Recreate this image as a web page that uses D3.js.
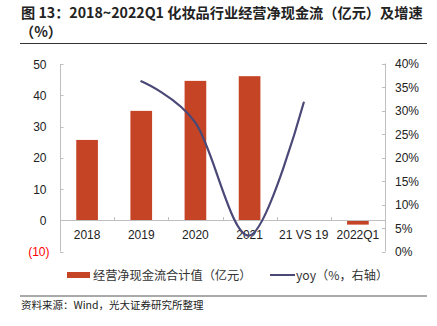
<!DOCTYPE html>
<html>
<head>
<meta charset="utf-8">
<script src="https://cdn.jsdelivr.net/npm/d3@7"></script>
<style>
  html, body { margin: 0; padding: 0; background: #fff; }
  svg { display: block; }
</style>
</head>
<body>
<svg id="chart" width="437" height="326"></svg>
<script>
// Categories and series
const categories = ["2018", "2019", "2020", "2021", "21 VS 19", "2022Q1"];
const cashFlow = [25.7, 35.0, 44.6, 46.1, null, -1.4];      // 亿元
const yoy = [null, 36.2, 27.4, 3.4, 31.7, null];              // %
const leftTicks = [-10, 0, 10, 20, 30, 40, 50];
const rightTicks = [0, 5, 10, 15, 20, 25, 30, 35, 40];

const titleLines = ["图 13：2018~2022Q1 化妆品行业经营净现金流（亿元）及增速", "（%）"];
const legendBar = "经营净现金流合计值（亿元）";
const legendLine = "yoy（%，右轴）";
const sourceText = "资料来源：Wind，光大证券研究所整理";

const svg = d3.select("#chart");
const cjk = "'Noto Sans CJK SC', 'Noto Sans', sans-serif";
const latin = "'Liberation Sans', Arial, sans-serif";
const barColor = "#C64426";
const lineColor = "#4A4877";
const axisColor = "#BFBFBF";

const plot = { left: 60, right: 385, top: 64, bottom: 251.5 };

const x = d3.scaleBand().domain(categories).range([plot.left, plot.right]).paddingInner(0).paddingOuter(0);
const yL = d3.scaleLinear().domain([-10, 50]).range([plot.bottom, plot.top]);
const yR = d3.scaleLinear().domain([0, 40]).range([plot.bottom, plot.top - 0.5]);

// Title
svg.append("text")
  .attr("x", 21).attr("y", 18)
  .attr("font-family", cjk).attr("font-size", 14.2).attr("font-weight", "bold").attr("fill", "#222")
  .selectAll("tspan").data(titleLines).join("tspan")
  .attr("x", (d, i) => i === 0 ? 21 : 20)
  .attr("dy", (d, i) => i === 0 ? 0 : 19)
  .text(d => d);

svg.append("line").attr("x1", 20).attr("x2", 427).attr("y1", 43.5).attr("y2", 43.5)
  .attr("stroke", "#333").attr("stroke-width", 1);

// Left axis
svg.append("line").attr("x1", plot.left + 0.5).attr("x2", plot.left + 0.5)
  .attr("y1", yL(50)).attr("y2", yL(-10)).attr("stroke", axisColor);
svg.selectAll(".ltick").data(leftTicks).join("line")
  .attr("x1", plot.left).attr("x2", plot.left + 3.5)
  .attr("y1", d => Math.round(yL(d)) + 0.5).attr("y2", d => Math.round(yL(d)) + 0.5)
  .attr("stroke", axisColor);
svg.selectAll(".llab").data(leftTicks).join("text")
  .attr("x", d => d < 0 ? 49.5 : 46.5)
  .attr("y", d => yL(d) + 4.5)
  .attr("text-anchor", "end")
  .attr("font-family", latin).attr("font-size", 12)
  .attr("fill", d => d < 0 ? "#FF0000" : "#222")
  .text(d => d < 0 ? `(${Math.abs(d)})` : d);

// Right axis
svg.append("line").attr("x1", plot.right + 0.5).attr("x2", plot.right + 0.5)
  .attr("y1", yR(40)).attr("y2", yR(0)).attr("stroke", axisColor);
svg.selectAll(".rtick").data(rightTicks).join("line")
  .attr("x1", plot.right - 3).attr("x2", plot.right + 0.5)
  .attr("y1", d => Math.round(yR(d)) + 0.5).attr("y2", d => Math.round(yR(d)) + 0.5)
  .attr("stroke", axisColor);
svg.selectAll(".rlab").data(rightTicks).join("text")
  .attr("x", 395)
  .attr("y", d => yR(d) + 4.5)
  .attr("font-family", latin).attr("font-size", 12).attr("fill", "#222")
  .text(d => d + "%");

// Bars
const barW = x.bandwidth() * 0.4;
svg.selectAll(".bar").data(categories.map((c, i) => ({ c, v: cashFlow[i] })).filter(d => d.v !== null))
  .join("rect")
  .attr("x", d => x(d.c) + (x.bandwidth() - barW) / 2)
  .attr("width", barW)
  .attr("y", d => yL(Math.max(0, d.v)))
  .attr("height", d => Math.abs(yL(d.v) - yL(0)))
  .attr("fill", barColor);

// Category axis along zero
const y0 = Math.round(yL(0)) + 0.5;
svg.append("line").attr("x1", plot.left).attr("x2", plot.right).attr("y1", y0).attr("y2", y0)
  .attr("stroke", axisColor);
svg.selectAll(".ctick").data(categories.slice(1)).join("line")
  .attr("x1", d => Math.round(x(d)) + 0.5).attr("x2", d => Math.round(x(d)) + 0.5)
  .attr("y1", y0 - 3.5).attr("y2", y0)
  .attr("stroke", axisColor);
svg.selectAll(".clab").data(categories).join("text")
  .attr("x", d => x(d) + x.bandwidth() / 2)
  .attr("y", 239)
  .attr("text-anchor", "middle")
  .attr("font-family", latin).attr("font-size", 12).attr("fill", "#222")
  .text(d => d);

// yoy line (smoothed)
const linePts = categories.map((c, i) => ({ c, v: yoy[i] })).filter(d => d.v !== null);
const line = d3.line()
  .x(d => x(d.c) + x.bandwidth() / 2)
  .y(d => yR(d.v))
  .curve(d3.curveCatmullRom.alpha(0));
svg.append("path").datum(linePts)
  .attr("d", line)
  .attr("fill", "none").attr("stroke", lineColor).attr("stroke-width", 2.2)
  .attr("stroke-linecap", "round");

// Legend
svg.append("rect").attr("x", 67).attr("y", 272).attr("width", 23).attr("height", 6).attr("fill", barColor);
svg.append("text").attr("x", 93).attr("y", 280)
  .attr("font-family", cjk).attr("font-size", 12.2).attr("fill", "#333").text(legendBar);
svg.append("line").attr("x1", 270).attr("x2", 295).attr("y1", 275).attr("y2", 275)
  .attr("stroke", lineColor).attr("stroke-width", 2);
svg.append("text").attr("x", 296).attr("y", 280)
  .attr("font-family", cjk).attr("font-size", 12.2).attr("fill", "#333").text(legendLine);

// Footer
svg.append("line").attr("x1", 20).attr("x2", 427).attr("y1", 296).attr("y2", 296)
  .attr("stroke", "#555").attr("stroke-width", 1);
svg.append("text").attr("x", 21).attr("y", 309)
  .attr("font-family", cjk).attr("font-size", 10.5).attr("fill", "#222").text(sourceText);
</script>
</body>
</html>
